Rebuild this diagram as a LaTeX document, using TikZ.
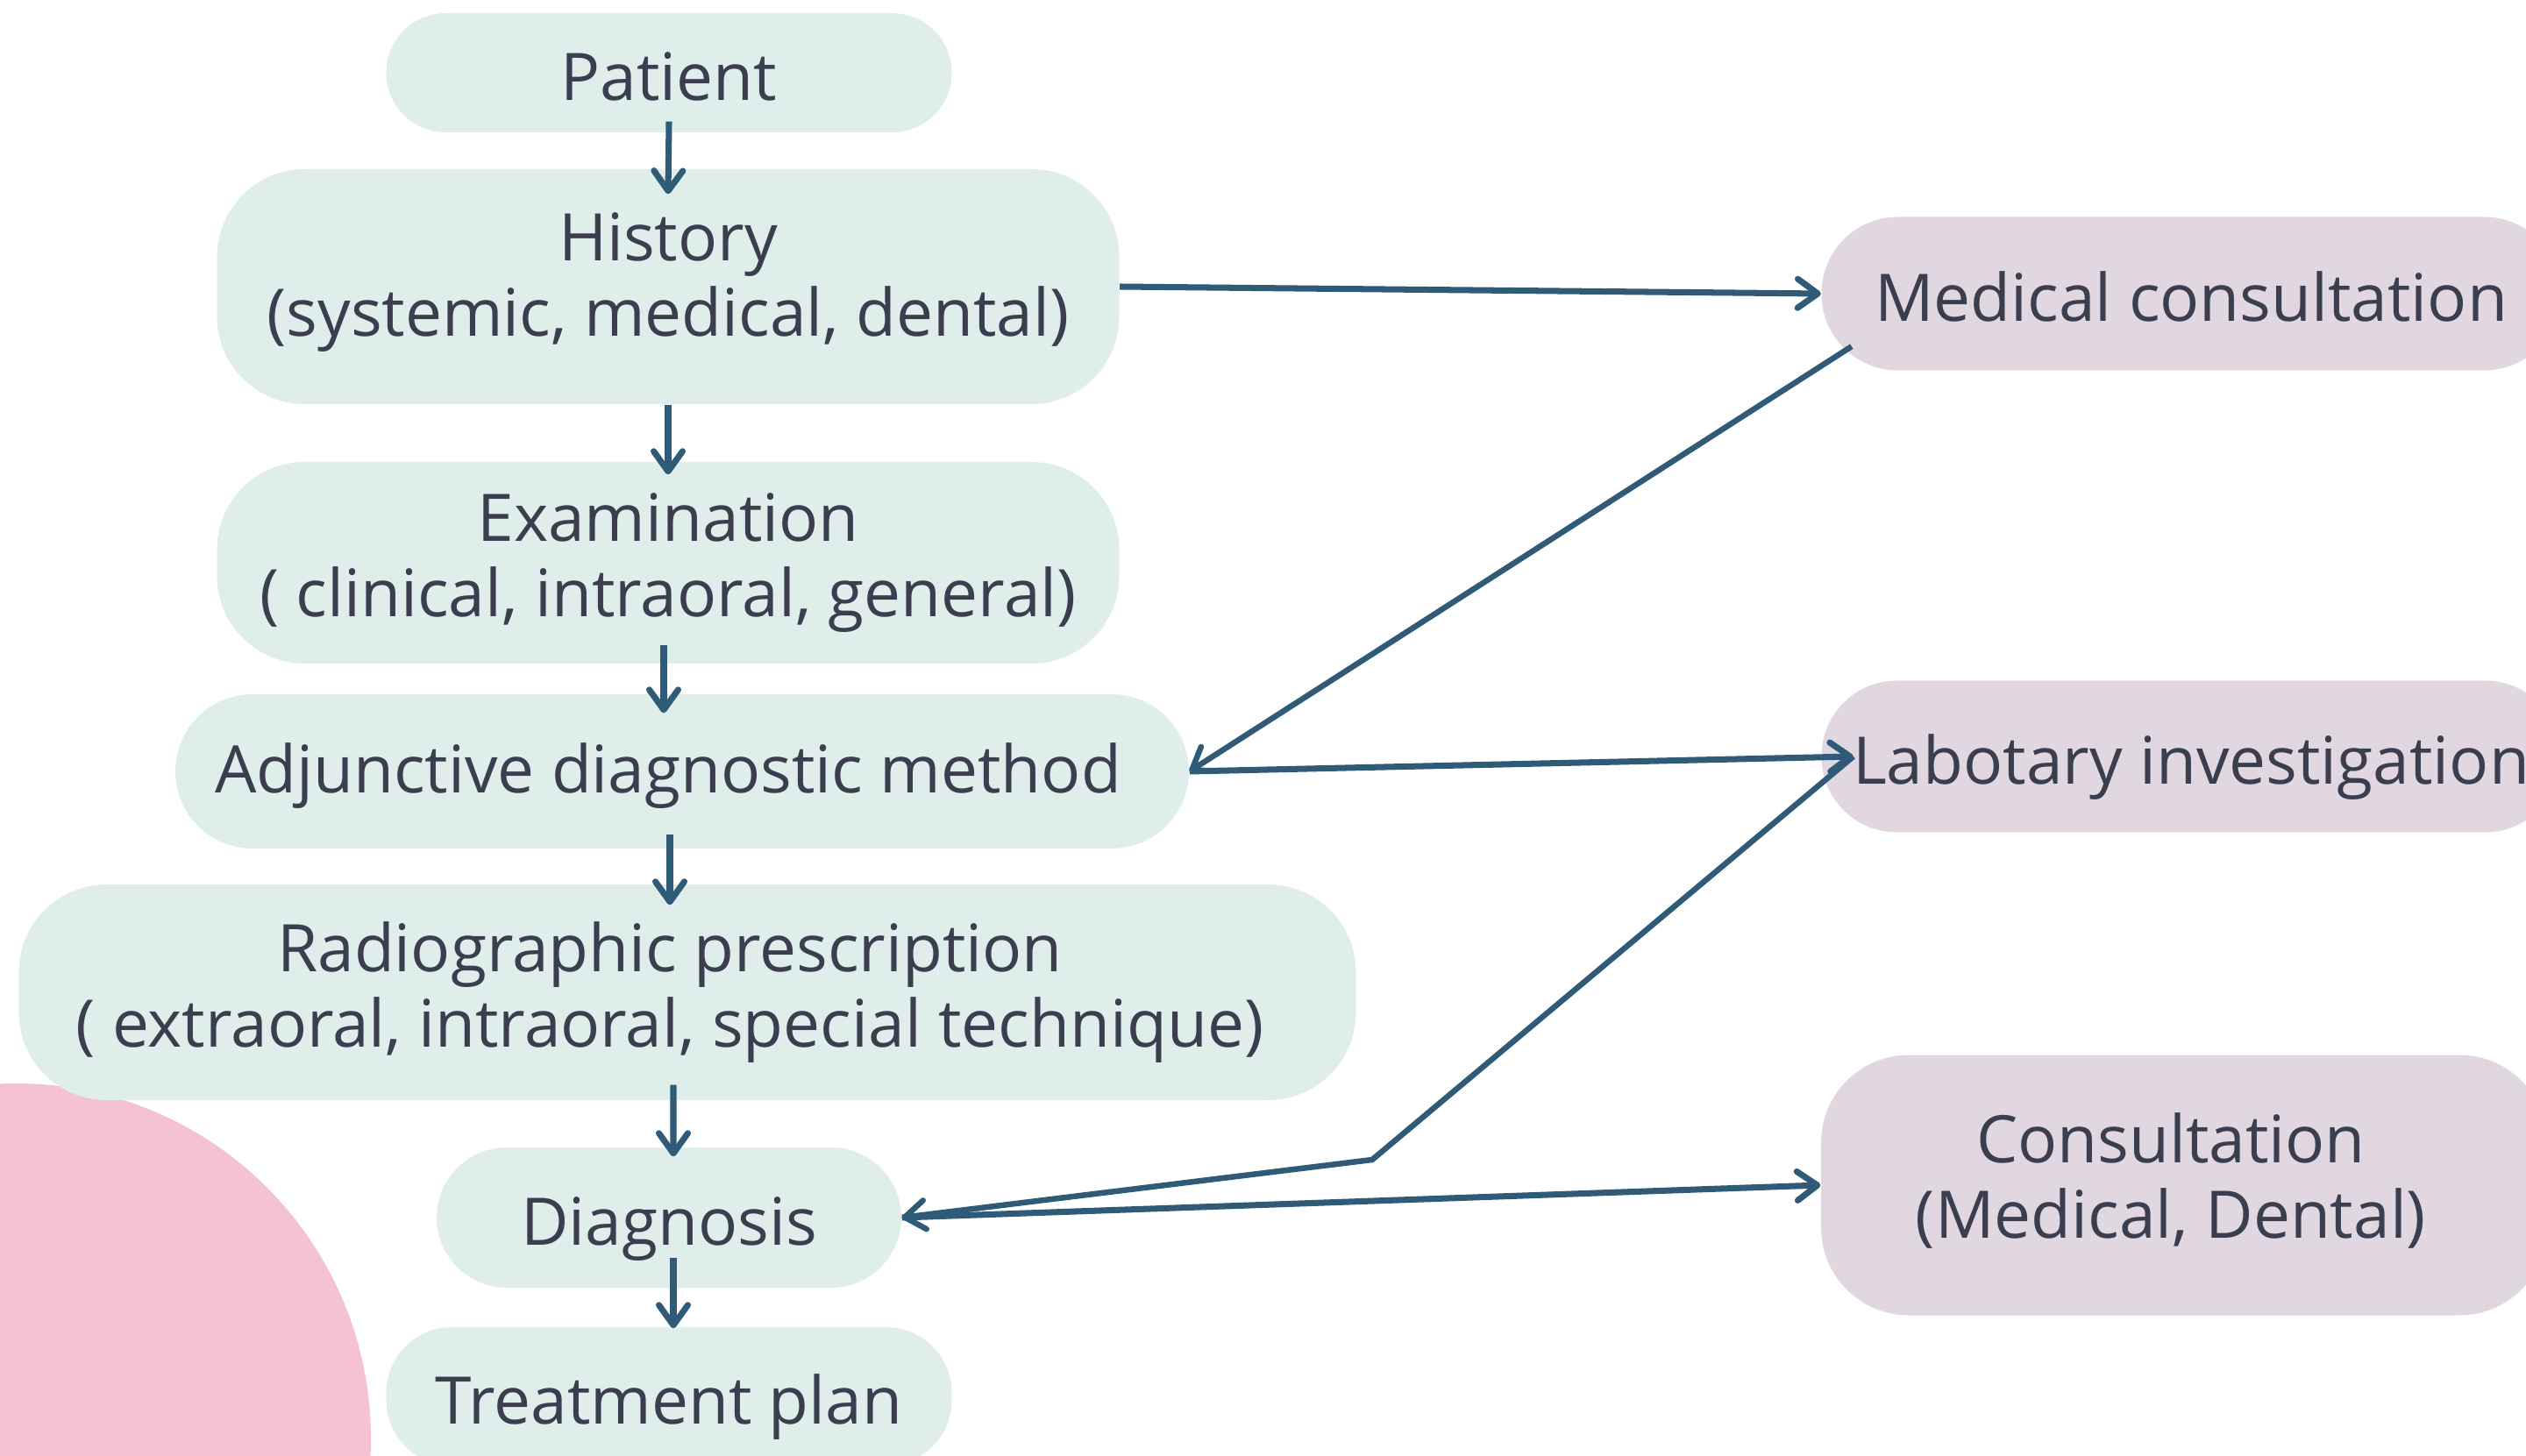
\documentclass[tikz,border=0pt]{standalone}
\usepackage{fontspec}
\setmainfont{Open Sans}
\usepackage{tikz}
\usetikzlibrary{arrows.meta}
\definecolor{boxgreen}{HTML}{DFEEEA}
\definecolor{boxpurple}{HTML}{E0D7E0}
\definecolor{linkblue}{HTML}{2F5B78}
\definecolor{blobpink}{HTML}{F5C1D5}
\definecolor{textgrey}{HTML}{3B3E4F}
\tikzstyle{caption}=[text=textgrey,align=center,inner sep=0mm,font=\fontsize{21.3}{24.6}\selectfont]
\tikzstyle{stage}=[caption,rectangle,rounded corners=1cm,fill=boxgreen]
\tikzstyle{oneline}=[text height=18pt,text depth=0pt]
\tikzstyle{referral}=[stage,fill=boxpurple]
\tikzstyle{arrow}=[->,>={Straight Barb[length=2.3mm,width=3.3mm,round]},draw=linkblue,line width=2pt]

\begin{document}
\begin{tikzpicture}
      \useasboundingbox (0,0) rectangle (28.81,-16.61);
      \fill[blobpink] (0.18,-16.41) circle (4.05);
      \node[stage, oneline, minimum width=6.45cm, minimum height=1.36cm, rounded corners=0.68cm] at (7.63,-0.83) (patient) {Patient};
      \node[stage, minimum width=10.29cm, minimum height=2.68cm, label={[caption,yshift=0.05cm]center:History\\(systemic, medical, dental)}] at (7.62,-3.27) (history) {};
      \node[stage, minimum width=10.29cm, minimum height=2.30cm] at (7.62,-6.42) (exam) {Examination\\( clinical, intraoral, general)};
      \node[stage, minimum width=11.56cm, minimum height=1.76cm, rounded corners=0.88cm, label={[caption,xshift=-0.16cm,yshift=-0.05cm]center:Adjunctive diagnostic method}] at (7.78,-8.80) (adjunct) {};
      \node[stage, minimum width=15.25cm, minimum height=2.46cm, label={[caption,xshift=-0.2cm]center:Radiographic prescription\\( extraoral, intraoral, special technique)}] at (7.84,-11.32) (radio) {};
      \node[stage, oneline, minimum width=5.30cm, minimum height=1.60cm, rounded corners=0.8cm] at (7.63,-13.89) (diag) {Diagnosis};
      \node[stage, oneline, minimum width=6.45cm, minimum height=1.58cm, rounded corners=0.75cm] at (7.63,-15.93) (treat) {Treatment plan};
      \node[referral, oneline, minimum width=8.43cm, minimum height=1.75cm, rounded corners=0.87cm] at (24.99,-3.35) (medcons) {Medical consultation};
      \node[referral, oneline, minimum width=8.43cm, minimum height=1.73cm, rounded corners=0.86cm] at (24.99,-8.63) (labinv) {Labotary investigation};
      \node[referral, minimum width=8.28cm, minimum height=2.97cm, label={[caption,xshift=-0.15cm,yshift=0.05cm]center:Consultation\\(Medical, Dental)}] at (24.91,-13.52) (consult) {};
      \coordinate (kink) at (15.65,-13.23);
      \draw[arrow] ([yshift=0.13cm]patient.south) -- ([yshift=-0.29cm]history.north);
      \draw[arrow] (history.south) -- ([yshift=-0.15cm]exam.north);
      \draw[arrow] ([xshift=-0.05cm,yshift=0.22cm]exam.south) -- ([xshift=-0.05cm,yshift=-0.22cm]adjunct.north -| exam);
      \draw[arrow] ([xshift=-0.14cm,yshift=0.17cm]adjunct.south) -- ([xshift=-0.20cm,yshift=-0.24cm]radio.north);
      \draw[arrow] ([xshift=-0.16cm,yshift=0.18cm]radio.south) -- ([xshift=0.05cm,yshift=-0.11cm]diag.north);
      \draw[arrow] ([xshift=0.05cm,yshift=0.35cm]diag.south) -- ([xshift=0.05cm,yshift=-0.02cm]treat.north);
      \draw[arrow] (history.east) -- (medcons.west);
      \draw[arrow, line width=1.85pt] ([xshift=0.35cm,yshift=0.28cm]medcons.south west) -- (adjunct.east);
      \draw[arrow] (adjunct.east) -- ([xshift=0.37cm]labinv.west);
      \draw[arrow, line width=1.85pt] ([xshift=0.37cm]labinv.west) -- (kink) -- (diag.east);
      \draw[arrow] (diag.east) -- (consult.west);
    \end{tikzpicture}
\end{document}
